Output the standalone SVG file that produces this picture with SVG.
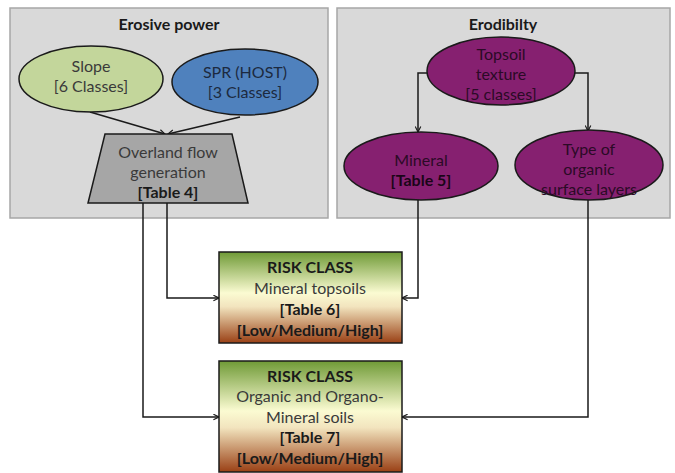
<svg xmlns="http://www.w3.org/2000/svg" width="675" height="473" viewBox="0 0 675 473">
<style>
.panel{fill:#d9d9d9;stroke:#a6a6a6;stroke-width:1.5}
.node{stroke:#1a1a1a;stroke-width:1.5}
.t{font-family:Lato,"Liberation Sans",sans-serif;font-size:16px;fill:#3a3a3a;text-anchor:middle}
.b{font-weight:bold;fill:#1a1a1a}
.p{fill:#2b0a26}
.conn{fill:none;stroke:#1a1a1a;stroke-width:1.5;marker-end:url(#ah)}
</style>
<defs>
<marker id="ah" viewBox="0 0 10 10" refX="9" refY="5" markerWidth="7" markerHeight="7" orient="auto" markerUnits="userSpaceOnUse">
<path d="M1,1 L9,5 L1,9" fill="none" stroke="#1a1a1a" stroke-width="1.6"/>
</marker>
<linearGradient id="risk" x1="0" y1="0" x2="0" y2="1">
<stop offset="0" stop-color="#6f9a36"/>
<stop offset="0.45" stop-color="#fbfbd2"/>
<stop offset="0.6" stop-color="#f2e4be"/>
<stop offset="1" stop-color="#9a4015"/>
</linearGradient>
</defs>
<g id="panel-erosive">
<rect class="panel" x="10" y="8" width="318" height="210"/>
<text class="t b" x="169" y="30">Erosive power</text>
</g>
<g id="panel-erodibility">
<rect class="panel" x="337" y="8" width="333" height="210"/>
<text class="t b" x="503" y="30">Erodibilty</text>
</g>
<g id="connectors">
<path class="conn" d="M90,112 L165,134"/>
<path class="conn" d="M240,117 L168,134"/>
<path class="conn" d="M428,73 L418,73 L418,132"/>
<path class="conn" d="M575,73 L588,73 L588,131"/>
<path class="conn" d="M167,203 L167,298 L219,298"/>
<path class="conn" d="M143,203 L143,417 L219,417"/>
<path class="conn" d="M418,200 L418,298 L402,298"/>
<path class="conn" d="M588,200 L588,417 L402,417"/>
</g>
<g id="slope">
<ellipse class="node" cx="91" cy="79" rx="72" ry="33" fill="#c3d69b"/>
<text class="t" x="91" y="72">Slope</text>
<text class="t" x="91" y="92">[6 Classes]</text>
</g>
<g id="spr">
<ellipse class="node" cx="245" cy="82" rx="73" ry="33" fill="#4f81bd"/>
<text class="t" x="245" y="78" style="fill:#1c2a40">SPR (HOST)</text>
<text class="t" x="245" y="98" style="fill:#1c2a40">[3 Classes]</text>
</g>
<g id="overland">
<polygon class="node" points="105,134 232,134 248,203 88,203" fill="#a6a6a6"/>
<text class="t" x="168" y="158">Overland flow</text>
<text class="t" x="168" y="178">generation</text>
<text class="t b" x="168" y="198">[Table 4]</text>
</g>
<g id="topsoil">
<ellipse class="node" cx="501" cy="71" rx="74" ry="34" fill="#862070"/>
<text class="t p" x="501" y="60">Topsoil</text>
<text class="t p" x="501" y="80">texture</text>
<text class="t p" x="501" y="100">[5 classes]</text>
</g>
<g id="mineral">
<ellipse class="node" cx="421" cy="166" rx="77" ry="34" fill="#862070"/>
<text class="t p" x="421" y="166">Mineral</text>
<text class="t b" x="421" y="186" style="fill:#1a0518">[Table 5]</text>
</g>
<g id="organic">
<ellipse class="node" cx="589" cy="165" rx="74" ry="35" fill="#862070"/>
<text class="t p" x="589" y="155">Type of</text>
<text class="t p" x="589" y="175">organic</text>
<text class="t p" x="589" y="195">surface layers</text>
</g>
<g id="risk-mineral">
<rect class="node" x="219" y="252" width="183" height="91" fill="url(#risk)"/>
<text class="t b" x="310" y="273">RISK CLASS</text>
<text class="t" x="310" y="294">Mineral topsoils</text>
<text class="t b" x="310" y="315">[Table 6]</text>
<text class="t b" x="310" y="336">[Low/Medium/High]</text>
</g>
<g id="risk-organic">
<rect class="node" x="219" y="361" width="183" height="111" fill="url(#risk)"/>
<text class="t b" x="310" y="382">RISK CLASS</text>
<text class="t" x="310" y="402">Organic and Organo-</text>
<text class="t" x="310" y="423">Mineral soils</text>
<text class="t b" x="310" y="443">[Table 7]</text>
<text class="t b" x="310" y="464">[Low/Medium/High]</text>
</g>
</svg>
